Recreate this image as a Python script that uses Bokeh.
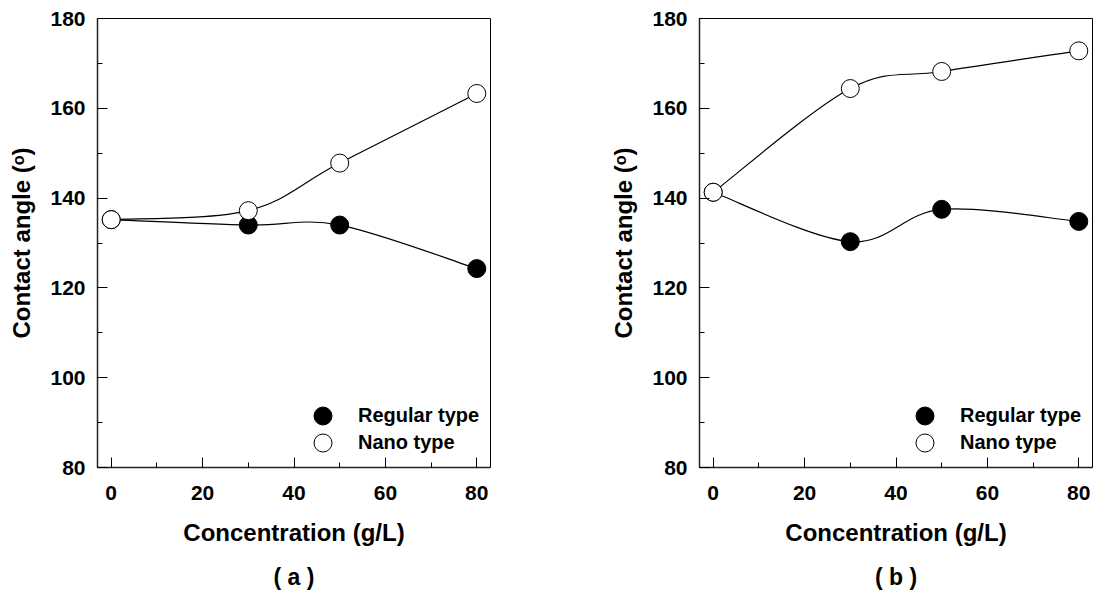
import numpy as np
from bokeh.plotting import figure
from bokeh.layouts import row
from bokeh.models import Range1d, SingleIntervalTicker, Legend, LegendItem, Label
from bokeh.embed import file_html
from bokeh.resources import INLINE

# ---- data ----
conc = [0, 30, 50, 80]
a_regular = [135.2, 134.0, 134.0, 124.3]
a_nano = [135.2, 137.2, 147.8, 163.3]
b_regular = [141.3, 130.3, 137.5, 134.8]
b_nano = [141.3, 164.4, 168.2, 172.8]
panel_names = ["( a )", "( b )"]
x_title = "Concentration (g/L)"
y_title = "Contact angle (\u1d52)"
series_names = ["Regular type", "Nano type"]

FONT = "Liberation Sans"


def catmull_bezier(xs, ys):
    P = np.column_stack([np.asarray(xs, float), np.asarray(ys, float)])
    n = len(P)
    out = {k: [] for k in ["x0", "y0", "x1", "y1", "cx0", "cy0", "cx1", "cy1"]}
    for i in range(n - 1):
        p0 = P[max(i - 1, 0)]
        p1 = P[i]
        p2 = P[i + 1]
        p3 = P[min(i + 2, n - 1)]
        c0 = p1 + (p2 - p0) / 6.0
        c1 = p2 - (p3 - p1) / 6.0
        out["x0"].append(p1[0]); out["y0"].append(p1[1])
        out["x1"].append(p2[0]); out["y1"].append(p2[1])
        out["cx0"].append(c0[0]); out["cy0"].append(c0[1])
        out["cx1"].append(c1[0]); out["cy1"].append(c1[1])
    return out


def one_legend(label, renderer, loc):
    return Legend(items=[LegendItem(label=label, renderers=[renderer])],
                  location=loc, orientation="vertical",
                  glyph_width=45, glyph_height=45, label_height=45,
                  label_standoff=13, spacing=0, padding=0, margin=0,
                  border_line_alpha=0, background_fill_alpha=0,
                  label_text_font=FONT, label_text_font_style="bold",
                  label_text_font_size="20px", label_text_color="black")


def make_panel(regular, nano, name, width, border_left, border_right):
    p = figure(width=width, height=593, output_backend="svg", toolbar_location=None,
               x_range=Range1d(-3, 83), y_range=Range1d(80, 180),
               min_border_left=border_left, min_border_right=border_right,
               min_border_top=18, min_border_bottom=126)
    p.grid.visible = False
    p.outline_line_color = "black"
    p.outline_line_width = 1
    p.background_fill_color = "white"
    p.border_fill_color = "white"

    for ax in (p.xaxis[0], p.yaxis[0]):
        ax.axis_line_color = "#222222"
        ax.axis_line_width = 1.5
        ax.major_tick_in = 10
        ax.major_tick_out = 0
        ax.minor_tick_in = 5
        ax.minor_tick_out = 0
        ax.major_tick_line_color = "black"
        ax.minor_tick_line_color = "black"
        ax.major_label_text_font = FONT
        ax.major_label_text_font_style = "bold"
        ax.major_label_text_font_size = "21px"
        ax.major_label_text_color = "black"
        ax.axis_label_text_font = FONT
        ax.axis_label_text_font_style = "bold"
        ax.axis_label_text_font_size = "24px"
        ax.axis_label_text_color = "black"

    p.xaxis.ticker = SingleIntervalTicker(interval=20, num_minor_ticks=2)
    p.yaxis.ticker = SingleIntervalTicker(interval=20, num_minor_ticks=2)
    p.xaxis.major_label_standoff = 18
    p.yaxis.major_label_standoff = 12
    p.xaxis.axis_label = x_title
    p.xaxis.axis_label_standoff = 16
    p.yaxis.axis_label = y_title
    p.yaxis.axis_label_standoff = 12

    # curves
    for ys in (regular, nano):
        b = catmull_bezier(conc, ys)
        p.bezier(x0=b["x0"], y0=b["y0"], x1=b["x1"], y1=b["y1"],
                 cx0=b["cx0"], cy0=b["cy0"], cx1=b["cx1"], cy1=b["cy1"],
                 line_color="black", line_width=1.2)

    r_reg = p.scatter(conc, regular, size=18, marker="circle", fill_color="black",
                      line_color="black", line_width=1)
    r_nano = p.scatter(conc, nano, size=18, marker="circle", fill_color="white",
                       line_color="black", line_width=1)

    p.add_layout(one_legend(series_names[0], r_reg, (203, 29)), "center")
    p.add_layout(one_legend(series_names[1], r_nano, (203, 2)), "center")

    # panel label below the axis title
    p.add_layout(Label(x=196.5, y=-2, x_units="screen", y_units="screen", text=name,
                       text_align="center", text_baseline="middle",
                       text_font=FONT, text_font_style="bold",
                       text_font_size="23px", text_color="black"), "below")
    return p


pa = make_panel(a_regular, a_nano, panel_names[0], 600, 97, 110)
pb = make_panel(b_regular, b_nano, panel_names[1], 494, 99, 2)

layout = row(pa, pb)
open("out.html", "w").write(file_html(layout, INLINE))
